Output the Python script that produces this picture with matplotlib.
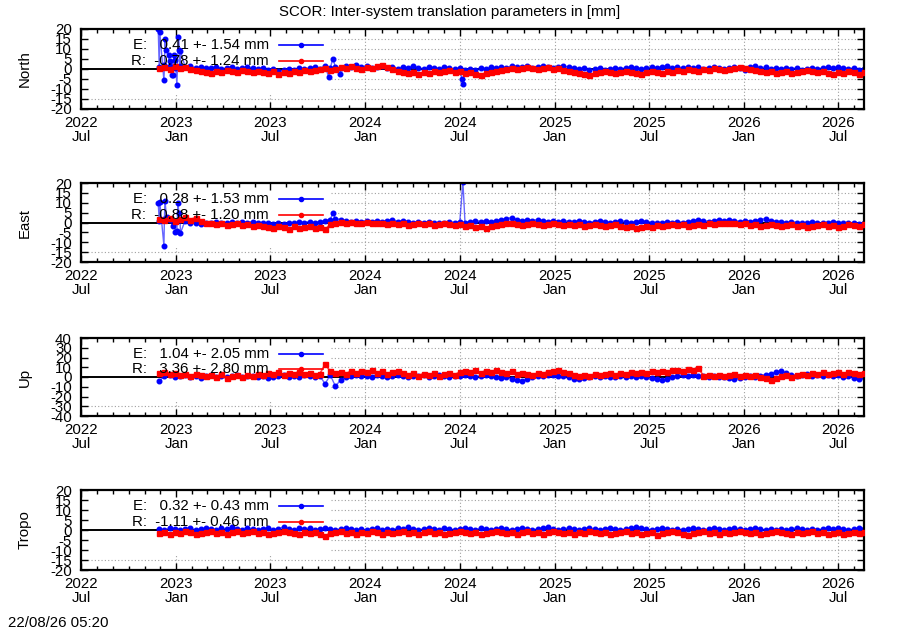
import matplotlib
matplotlib.use("Agg")
import matplotlib.pyplot as plt
import matplotlib.dates as mdates
from matplotlib.ticker import FuncFormatter, MultipleLocator
from matplotlib.patches import Rectangle
import pandas as pd

plt.rcParams['font.family'] = ['Liberation Sans', 'DejaVu Sans']
plt.rcParams['axes.unicode_minus'] = False

TITLE = "SCOR: Inter-system translation parameters in [mm]"
STAMP = "22/08/26 05:20"
components = ["North", "East", "Up", "Tropo"]
ylimits = [20, 20, 40, 20]
ysteps = [5, 5, 10, 5]
legend_E = ["E:   0.41 +- 1.54 mm", "E:   0.28 +- 1.53 mm", "E:   1.04 +- 2.05 mm", "E:   0.32 +- 0.43 mm"]
legend_R = ["R:  -0.78 +- 1.24 mm", "R:  -0.88 +- 1.20 mm", "R:   3.36 +- 2.80 mm", "R:  -1.11 +- 0.46 mm"]

start_date = "2022-11-29"
step_days = 10

north_E = [1.0, 2.0, 1.5, 0.5, 1.5, 1.0, 1.5, 0.5, 1.0, 0.5,
           0.5, 1.0, 0.0, 0.5, 1.0, 0.0, 0.5, 1.0, 0.5, 0.0,
           0.5, -0.5, 0.0, -1.0, -0.5, 0.0, -0.5, 0.5, 0.0, 0.5,
           1.0, 0.0, 1.5, 0.5, 1.0, 0.5, 1.5, 1.0, 2.0, 1.0,
           1.5, 0.5, 1.0, 1.5, 0.5, 1.0, 0.0, 1.0, 0.5, 1.5,
           0.5, 0.0, 1.0, 0.5, 0.0, 1.0, 0.5, 0.0, 0.5, -0.5,
           0.0, -0.5, 0.5, 0.0, 1.0, 0.5, 1.0, 0.5, 1.5, 1.0,
           1.0, 1.5, 0.5, 1.0, 1.5, 1.0, 0.5, 1.0, 1.5, 1.0,
           0.5, 0.0, 0.5, -0.5, 0.0, 0.5, -0.5, 0.0, 0.5, 0.0,
           0.5, 1.0, 0.5, 0.0, 0.5, 1.0, 0.5, 1.0, 1.5, 0.5,
           1.0, 0.5, 1.0, 0.5, 1.0, 0.0, 0.5, 1.0, 0.5, 0.0,
           0.5, 1.0, 0.5, -0.5, 1.0, 1.5, 0.5, 1.0, 0.0, 0.5,
           0.0, 0.5, 0.0, 0.5, -0.5, 0.0, 0.5, 0.0, 0.5, 1.0,
           0.5, 1.0, 0.5, 0.0, 0.5, -0.5, 0.0]
north_R = [0.5, 1.0, 0.0, 1.5, 0.5, 1.0, 0.0, -0.5, -1.0, -1.5,
           -2.0, -1.0, -1.5, -0.5, -1.0, -1.5, -0.5, -1.0, -1.5, -1.0,
           -1.5, -2.0, -1.0, -2.5, -1.5, -2.0, -1.0, -1.5, -0.5, -1.0,
           -0.5, 0.0, 0.5, -0.5, 0.0, 1.0, 0.5, 1.5, 0.5, 0.0,
           1.0, 0.5, 1.5, 2.0, 1.0, 0.0, -1.0, -1.5, -2.0, -1.5,
           -2.5, -1.5, -2.0, -1.0, -1.5, -1.0, -0.5, -1.5, -1.0, -2.0,
           -1.5, -2.5, -3.0, -2.0, -1.5, -1.0, -0.5, 0.0, 0.5, 0.0,
           0.5, 1.0, 0.5, 0.0, 0.5, 1.0, 0.0, 0.5, -0.5, -1.0,
           -1.5, -2.0, -2.5, -3.0, -2.0, -1.5, -1.0, -1.5, -2.0, -1.5,
           -1.0, -1.5, -2.0, -2.5, -1.5, -1.0, -1.5, -2.0, -1.0, -1.5,
           -0.5, -1.0, 0.0, -0.5, -1.0, 0.0, -0.5, 0.5, 0.0, -0.5,
           0.0, 0.5, 1.0, 0.5, 0.0, -0.5, -1.0, -1.5, -1.0, -2.0,
           -1.5, -1.0, -2.0, -1.5, -1.0, -0.5, -1.0, -1.5, -1.0, -2.0,
           -2.5, -1.5, -2.0, -1.0, -1.5, -2.5, -1.5]
east_E = [1.0, 2.0, 1.5, 0.5, 1.5, 1.0, 0.0, -0.5, -1.0, -0.5,
          0.0, 0.5, 0.0, -0.5, 0.5, 0.0, 0.5, 0.0, 0.5, 0.0,
          -0.5, 0.0, -1.0, -0.5, -1.0, 0.0, -0.5, 0.5, 0.0, 0.5,
          0.0, 0.5, 1.0, 1.5, 2.0, 1.5, 1.0, 0.5, 1.0, 0.5,
          1.0, 0.5, 1.0, 0.5, 1.0, 1.5, 0.5, 1.0, 0.5, 0.0,
          0.5, 0.0, 0.5, 0.0, -0.5, 0.0, 0.5, 0.0, 0.5, 0.0,
          0.5, 1.0, 0.5, 1.0, 0.5, 1.0, 1.5, 2.0, 2.5, 1.5,
          1.0, 1.5, 1.0, 1.5, 1.0, 0.5, 1.0, 0.5, 1.0, 0.5,
          0.5, 1.0, 0.5, 0.0, 0.5, 1.0, 0.5, 0.0, 0.5, 1.0,
          0.5, 0.0, 0.5, 1.0, 0.5, 0.0, -0.5, 0.0, 0.5, 0.0,
          0.5, 0.0, 0.5, 1.0, 1.5, 1.0, 0.5, 1.0, 1.5, 1.0,
          1.5, 1.0, 0.5, 1.0, 0.5, 1.0, 1.5, 2.0, 1.0, 0.5,
          0.5, 0.0, 0.5, 0.0, -0.5, 0.0, 0.5, 0.0, -0.5, 0.0,
          0.5, 0.0, -0.5, 0.0, -0.5, -1.0, -0.5]
east_R = [2.0, 1.5, 2.5, 1.0, 2.0, 3.0, 1.5, 2.5, 1.0, 0.0,
          -0.5, -1.0, -0.5, -1.5, -1.0, -0.5, -1.5, -1.0, -2.0, -1.5,
          -2.0, -2.5, -3.0, -2.0, -2.5, -3.5, -2.0, -3.0, -2.5, -2.0,
          -3.0, -2.5, -3.5, -1.0, 0.0, 0.5, 0.0, 0.5, -0.5, 0.0,
          0.5, 0.0, -0.5, 0.0, -1.0, -0.5, -1.0, -0.5, -1.5, -1.0,
          -0.5, -1.0, -0.5, -1.5, -1.0, -0.5, -1.0, -1.5, -1.0, -2.0,
          -1.5, -2.5, -2.0, -3.0, -2.0, -1.5, -1.0, -0.5, -0.5, -1.0,
          -1.5, -1.0, -0.5, -1.0, -1.5, -1.0, -0.5, -1.0, -1.5, -1.0,
          -1.5, -1.0, -2.0, -1.5, -1.0, -1.5, -2.0, -1.5, -1.0, -2.0,
          -2.5, -2.0, -3.0, -2.5, -2.0, -2.5, -1.5, -2.0, -1.5, -1.0,
          -1.5, -1.0, -2.0, -1.5, -1.0, -1.5, -0.5, -1.0, 0.0, -0.5,
          0.0, -0.5, -1.0, -0.5, -1.5, -1.0, -2.0, -1.5, -1.0, -1.5,
          -2.0, -1.5, -1.0, -2.0, -1.5, -2.5, -2.0, -1.5, -1.0, -2.0,
          -1.5, -2.5, -2.0, -1.0, -1.5, -2.0, -1.0]
up_E = [-4.0, 1.0, 2.5, 0.0, 1.5, 2.0, 0.5, 1.5, -1.0, 1.0,
        2.0, 0.5, 1.0, -0.5, 1.5, 2.0, 0.0, 1.5, 1.0, 0.5,
        1.5, -1.0, 0.5, 1.0, 2.0, 0.5, 1.5, 0.0, 2.0, 1.0,
        0.5, 1.0, -7.0, 2.0, -9.5, -3.0, 0.0, 1.5, 2.0, 1.0,
        1.5, 0.5, 2.0, 1.0, 0.0, 1.5, 2.5, 1.0, 0.5, 1.5,
        1.0, 2.0, 0.5, 1.5, 2.5, 1.0, 0.0, 1.5, 1.0, 2.0,
        1.5, 0.5, 1.0, 2.0, 1.0, 0.0, -1.0, 0.5, -2.0, -3.5,
        -4.0, -2.0, 0.0, 1.0, 1.5, 2.0, 2.5, 1.5, 1.0, 0.0,
        -2.0, -2.5, -1.0, 0.5, 1.0, 0.0, 1.0, 0.5, -0.5, 1.0,
        0.5, 1.5, 0.0, 1.0, -0.5, -1.0, -2.0, -3.0, -2.5, 0.0,
        1.5, 2.0, 1.0, 2.5, 1.5, 1.0, 0.5, 1.0, 0.0, -0.5,
        -1.5, -2.5, -1.0, 0.0, 1.0, 0.5, 1.5, 2.5, 3.5, 5.0,
        6.5, 4.0, 2.5, 1.5, 2.0, 3.0, 1.5, 2.5, 1.0, 2.0,
        1.0, 2.0, 0.5, 1.5, -1.5, -2.0, 0.5]
up_R = [4.0, 5.0, 3.0, 4.5, 2.0, 3.5, 1.5, 3.0, 2.0, 1.0,
        2.5, 0.5, 3.0, -1.5, 1.0, 2.5, -0.5, 2.0, 1.5, 3.0,
        2.0, 4.0, 3.0, 5.0, 2.5, 4.5, 3.5, 5.5, 3.0, 4.0,
        2.0, 3.5, 13.0, 6.0, 4.0, 5.5, 3.5, 6.0, 4.5, 6.5,
        5.0, 7.0, 4.5, 6.0, 3.0, 5.5, 6.5, 4.0, 2.5, 4.0,
        1.5, 3.5, 2.0, 4.0, 1.0, 3.0, 4.5, 2.5, 5.0, 6.5,
        5.5, 7.0, 4.5, 6.5, 5.0, 7.5, 5.5, 4.0, 6.0, 3.5,
        4.0, 3.0, 2.5, 4.0, 3.5, 5.5, 6.5, 7.0, 5.5, 4.0,
        2.0, 1.0, 2.5, 1.5, 3.0, 2.0, 3.5, 4.0, 2.5, 4.5,
        3.5, 5.0, 4.0, 5.5, 4.5, 6.0, 5.0, 6.5, 5.5, 7.0,
        7.5, 6.5, 8.0, 7.5, 9.5, 1.5, 2.0, 1.0, 2.5, 1.5,
        2.0, 3.0, 1.5, 2.5, 1.0, 2.0, 0.5, -1.5, -3.0, -1.0,
        1.0, 2.0, 0.5, 2.5, 3.5, 2.0, 4.0, 3.0, 5.0, 3.5,
        4.5, 5.5, 3.5, 5.0, 4.0, 3.0, 4.5]
tropo_E = [0.5, 0.0, 1.0, 0.5, 0.0, 0.5, 1.0, 0.0, 0.5, 1.0,
           0.5, 0.0, 1.0, 0.5, 1.5, 0.5, 0.0, 1.0, 0.5, 0.0,
           0.5, 1.0, 0.0, 0.5, 1.5, 0.5, 0.0, 1.0, 0.5, 1.0,
           0.0, 0.5, 1.0, 0.5, 0.0, 0.5, 1.0, 0.5, 0.0, 0.5,
           0.0, 0.5, 1.0, 0.0, 0.5, 0.0, 1.0, 0.5, 1.5, 0.5,
           0.0, 0.5, 1.0, 0.5, 0.0, 1.0, 0.5, 0.0, 0.5, 1.0,
           0.5, 0.0, 1.0, 0.5, 0.0, 0.5, 1.0, 0.5, 0.0, 0.5,
           1.0, 0.5, 0.0, 0.5, 1.0, 1.5, 0.5, 0.0, 0.5, 1.0,
           0.5, 0.0, 0.5, 1.0, 0.5, 0.0, 0.5, 1.0, 0.5, 0.0,
           0.5, 1.0, 1.5, 1.0, 0.5, 0.0, 0.5, 1.0, 0.5, 0.0,
           0.5, 0.0, 0.5, 1.0, 0.5, 0.0, 0.5, 1.0, 0.5, 0.0,
           0.5, 1.0, 0.5, 0.0, 0.5, 1.0, 0.5, 0.0, 0.5, 0.0,
           0.5, 0.0, 0.5, 1.0, 0.5, 0.0, 0.5, 0.0, 0.5, 1.0,
           0.5, 1.0, 0.5, 0.0, 0.5, 1.0, 0.5]
tropo_R = [-1.5, -1.0, -2.0, -1.0, -1.5, -0.5, -1.0, -2.0, -1.5, -1.0,
           -0.5, -1.5, -1.0, -2.0, -1.0, -0.5, -1.5, -1.0, -0.5, -1.5,
           -1.0, -2.0, -1.5, -1.0, -0.5, -1.0, -1.5, -2.0, -1.0, -1.5,
           -1.0, -2.0, -3.0, -1.5, -1.0, -0.5, -1.5, -1.0, -2.0, -1.0,
           -1.5, -0.5, -1.0, -2.0, -1.0, -1.5, -1.0, -0.5, -1.5, -1.0,
           -2.0, -1.0, -0.5, -1.5, -1.0, -2.0, -1.5, -1.0, -0.5, -1.0,
           -1.5, -1.0, -2.0, -1.5, -1.0, -0.5, -1.0, -1.5, -1.0, -2.0,
           -1.0, -0.5, -1.5, -1.0, -2.0, -1.0, -0.5, -1.0, -1.5, -1.0,
           -2.0, -1.0, -1.5, -0.5, -1.0, -1.5, -1.0, -2.0, -1.5, -1.0,
           -0.5, -1.5, -1.0, -2.0, -1.5, -1.0, -2.5, -1.5, -1.0, -0.5,
           -1.0, -2.0, -2.5, -1.5, -1.0, -0.5, -1.5, -1.0, -2.0, -1.0,
           -1.5, -1.0, -0.5, -1.0, -1.5, -1.0, -2.0, -1.5, -1.0, -0.5,
           -1.0, -1.5, -2.0, -1.0, -1.5, -1.0, -0.5, -1.5, -1.0, -2.0,
           -1.5, -1.0, -2.0, -1.5, -1.0, -1.5, -1.0]

# individual outliers (date, value)
extra_north_E = [("2022-11-27", 20.0), ("2022-11-30", 18.5), ("2022-12-08", -5.7),
                 ("2022-12-10", 15.0), ("2022-12-12", 9.7), ("2022-12-17", 7.0),
                 ("2022-12-20", 4.0), ("2022-12-23", -2.8), ("2022-12-25", -2.8),
                 ("2022-12-27", 7.0), ("2022-12-30", 4.7), ("2023-01-02", -8.0),
                 ("2023-01-05", 16.0), ("2023-01-07", 9.7), ("2023-01-09", 9.0),
                 ("2023-10-22", -4.0), ("2023-10-30", 5.2), ("2023-11-13", -2.3),
                 ("2024-07-05", -5.0), ("2024-07-07", -7.3)]
extra_east_E = [("2022-11-27", 9.7), ("2022-11-30", 10.5), ("2022-12-08", -11.7),
                ("2022-12-10", 11.0), ("2022-12-13", 3.0), ("2022-12-25", -2.0),
                ("2022-12-30", -5.0), ("2023-01-02", -4.5), ("2023-01-04", 10.0),
                ("2023-01-06", 4.7), ("2023-01-09", -5.3), ("2023-10-30", 4.7),
                ("2024-07-07", 20.5)]

series_E = [north_E, east_E, up_E, tropo_E]
series_R = [north_R, east_R, up_R, tropo_R]
extras_E = [extra_north_E, extra_east_E, [], []]

BLUE = "#0000ff"
RED = "#ff0000"
GRID = "#a0a0a0"
FS = 10.8


def build(values, extras):
    d = pd.date_range(start_date, periods=len(values), freq=f"{step_days}D")
    s = pd.Series(values, index=d)
    if extras:
        e = pd.Series([v for _, v in extras], index=pd.to_datetime([t for t, _ in extras]))
        s = pd.concat([s, e]).sort_index()
    return s


def fmt(x, pos):
    d = mdates.num2date(x)
    return f"{d.year}\n{d.strftime('%b')}"


W, H = 900, 630
fig = plt.figure(figsize=(9, 6.3), dpi=100)
panels_px = [(29, 109), (183, 262), (338, 416), (490, 570)]
left_px, right_px = 81, 864

for i, comp in enumerate(components):
    top, bot = panels_px[i]
    ax = fig.add_axes([left_px / W, 1 - bot / H, (right_px - left_px) / W, (bot - top) / H])
    lim = ylimits[i]
    ax.set_xlim(pd.Timestamp("2022-07-01"), pd.Timestamp("2026-08-20"))
    ax.set_ylim(-lim, lim)
    ax.xaxis.set_major_locator(mdates.MonthLocator(bymonth=[1, 7]))
    ax.xaxis.set_minor_locator(mdates.MonthLocator())
    ax.xaxis.set_major_formatter(FuncFormatter(fmt))
    ax.yaxis.set_major_locator(MultipleLocator(ysteps[i]))
    ax.tick_params(which="both", direction="in", top=True, right=True, labelsize=FS, width=1)
    ax.tick_params(which="major", length=5)
    ax.tick_params(which="minor", length=3)
    ax.tick_params(axis="y", pad=6.5)
    ax.tick_params(axis="x", pad=5)
    for lbl in ax.get_xticklabels():
        lbl.set_linespacing(1.05)
    for sp in ax.spines.values():
        sp.set_linewidth(1.6)

    # grid
    xt = mdates.date2num(pd.date_range("2023-01-01", "2026-07-01", freq="6MS"))
    for x in xt:
        ax.axvline(x, color=GRID, lw=0.8, ls=(0, (1, 2)), zorder=0.5)
    for y in range(-lim + ysteps[i], lim, ysteps[i]):
        if y != 0:
            ax.axhline(y, color=GRID, lw=0.8, ls=(0, (1, 2)), zorder=0.5)
    # opaque key area
    ax.add_patch(Rectangle((0, 0.19), 0.318, 0.81, transform=ax.transAxes,
                           facecolor="white", edgecolor="none", zorder=0.8))
    ax.axhline(0, color="black", lw=1.4, zorder=1)

    sE = build(series_E[i], extras_E[i])
    sR = build(series_R[i], [])
    ax.plot(sE.index, sE.values, color=(0, 0, 1, 0.6), lw=1.0, marker="o", ms=3.3,
            mfc=BLUE, mec=BLUE, zorder=2)
    ax.plot(sR.index, sR.values, color=(1, 0, 0, 0.75), lw=1.2, marker="s", ms=3.6,
            mfc=RED, mec=RED, zorder=3)

    # key
    for row, (txt, col) in enumerate([(legend_E[i], BLUE), (legend_R[i], RED)]):
        yk = 0.8 - 0.2 * row
        ax.text(0.240, yk, txt, transform=ax.transAxes, ha="right", va="center",
                fontsize=FS, zorder=5)
        ax.plot([0.253, 0.309], [yk, yk], transform=ax.transAxes, color=col, lw=1.2,
                zorder=5, clip_on=False)
        ax.plot([0.281], [yk], transform=ax.transAxes, color=col, marker="o", ms=3,
                zorder=5, clip_on=False)

    ax.set_ylabel(comp, fontsize=FS)
    ax.yaxis.set_label_coords((32 - left_px) / (right_px - left_px), 0.5)

fig.text(0.5, 1 - 12 / H, TITLE, ha="center", va="center", fontsize=FS)
fig.text(8 / W, 1 - 623 / H, STAMP, ha="left", va="center", fontsize=FS)

fig.savefig("out.png", dpi=100)
